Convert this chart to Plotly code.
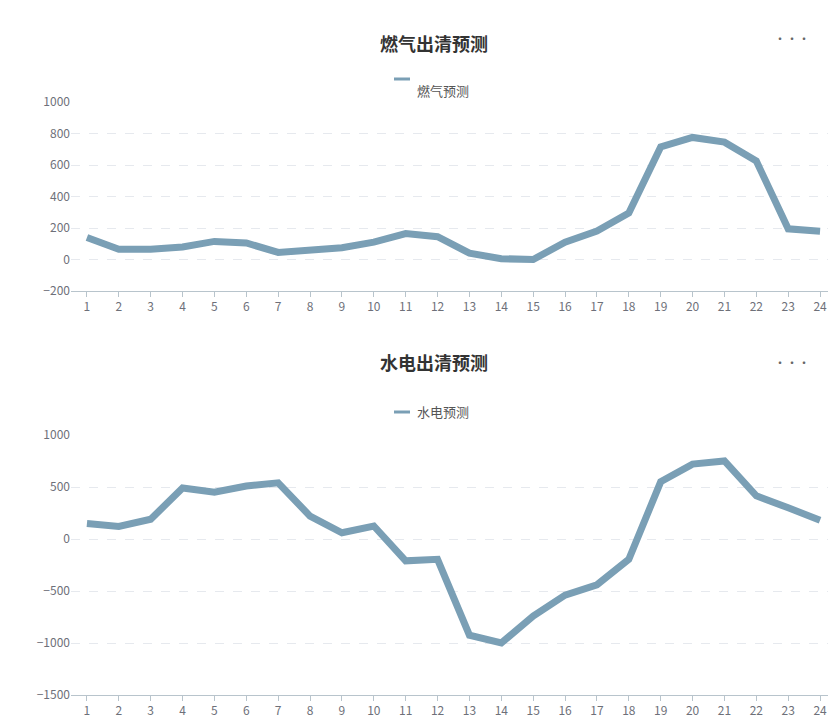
import plotly.graph_objects as go
from plotly.subplots import make_subplots

hours = list(range(1, 25))
gas_forecast = [140, 65, 65, 80, 115, 105, 45, 60, 75, 110, 165, 145,
                40, 5, 0, 110, 180, 295, 715, 775, 745, 625, 195, 180]
hydro_forecast = [150, 120, 190, 490, 450, 510, 540, 220, 60, 125, -210, -195,
                  -925, -1000, -740, -540, -440, -195, 550, 720, 750, 415, 300, 180]

line_color = '#7a9fb5'
font = 'Noto Sans CJK SC'

W, H = 836, 728
ML, MR, MT, MB = 63, 8, 94, 41
plot_w = W - ML - MR
plot_h = H - MT - MB


# pixel position -> paper coords
def px(x):
    return (x - ML) / plot_w


def py(y):
    return (H - MB - y) / plot_h


fig = make_subplots(rows=2, cols=1)
fig.add_trace(go.Scatter(x=hours, y=gas_forecast, mode='lines', name='燃气预测',
                         line=dict(color=line_color, width=7)), row=1, col=1)
fig.add_trace(go.Scatter(x=hours, y=hydro_forecast, mode='lines', name='水电预测',
                         line=dict(color=line_color, width=7)), row=2, col=1)

fig.update_xaxes(tickmode='array', tickvals=hours, range=[0.5, 24.5],
                 showgrid=False, showline=True, linecolor='#b8c4cc',
                 ticks='outside', ticklen=5, tickcolor='#b8c4cc',
                 tickfont=dict(size=12, color='#6e7079'))
fig.update_yaxes(showgrid=True, gridcolor='#e6e9ee', griddash='dash',
                 zeroline=False, tickfont=dict(size=12, color='#6e7079'))
fig.update_yaxes(range=[-200, 1000], dtick=200, row=1, col=1)
fig.update_yaxes(range=[-1500, 1000], dtick=500, row=2, col=1)

fig.update_layout(
    width=W, height=H, showlegend=False,
    plot_bgcolor='white', paper_bgcolor='white',
    font=dict(family=font),
    margin=dict(l=ML, r=MR, t=MT, b=MB),
    yaxis=dict(domain=[py(283), py(94)]),
    yaxis2=dict(domain=[py(687), py(427)]),
)

for text, y in [('燃气出清预测', 20), ('水电出清预测', 354)]:
    fig.add_annotation(text='<b>' + text + '</b>', x=px(426), y=py(y), xref='paper', yref='paper',
                       showarrow=False, font=dict(size=18, color='#333'))
    fig.add_annotation(text='•••', x=px(804), y=py(y), xref='paper', yref='paper',
                       showarrow=False, font=dict(size=12, color='#666'))
for text, y in [('燃气预测', 71), ('水电预测', 404)]:
    fig.add_annotation(text=text, x=px(407), y=py(y), xref='paper', yref='paper',
                       xanchor='left', showarrow=False, font=dict(size=13, color='#555'))
    fig.add_shape(type='line', x0=px(386), x1=px(402), y0=py(y), y1=py(y),
                  xref='paper', yref='paper', line=dict(color=line_color, width=3))

fig.write_html("out.html")
